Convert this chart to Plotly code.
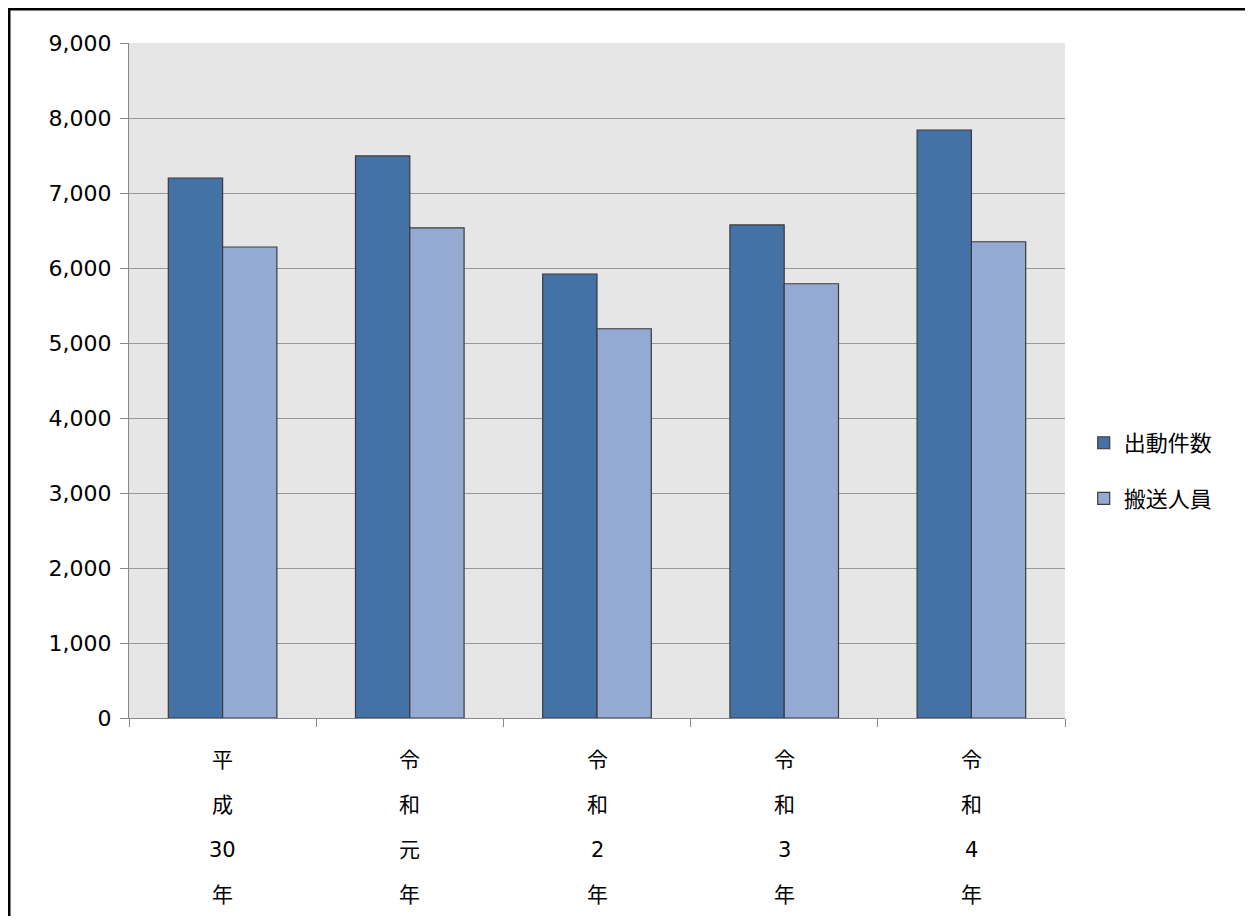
import plotly.graph_objects as go

categories = ["平成30年", "令和元年", "令和2年", "令和3年", "令和4年"]
cat_lines = [["平", "成", "30", "年"], ["令", "和", "元", "年"], ["令", "和", "2", "年"],
             ["令", "和", "3", "年"], ["令", "和", "4", "年"]]
dispatches = [7200, 7495, 5920, 6575, 7840]
transported = [6280, 6535, 5190, 5790, 6350]

font = "DejaVu Sans, Noto Sans CJK JP"

fig = go.Figure()
fig.add_bar(x=categories, y=dispatches, name="出動件数", legendgroup="a",
            marker=dict(color="#4472a6", line=dict(color="#3a3a3a", width=1.2)))
fig.add_bar(x=categories, y=transported, name="搬送人員", legendgroup="b",
            marker=dict(color="#95aad2", line=dict(color="#3a3a3a", width=1.2)))

for cat, lines in zip(categories, cat_lines):
    for i, t in enumerate(lines):
        fig.add_annotation(x=cat, y=0, xref="x", yref="y", text=t, showarrow=False,
                           yshift=-42 - 45 * i, font=dict(size=21, color="#000"))

W, H = 1237, 908
L, R, T, B = 121, 180, 35, 198
pw, ph = W - L - R, H - T - B

fig.update_layout(
    width=W, height=H,
    margin=dict(l=L, r=R, t=T, b=B),
    paper_bgcolor="white", plot_bgcolor="#e6e6e6",
    font=dict(family=font, size=22, color="#000"),
    barmode="group", bargap=0.42, bargroupgap=0,
    legend=dict(x=1.02, y=0.366, yanchor="middle", font=dict(size=22),
                itemwidth=30, tracegroupgap=24),
)
fig.add_shape(type="rect", xref="paper", yref="paper",
              x0=-(L - 1) / pw, x1=1 + (R + 6) / pw, y0=-(B + 6) / ph, y1=1 + (T - 1) / ph,
              line=dict(color="black", width=3))
fig.update_xaxes(showticklabels=False, showline=True, linecolor="#888",
                 ticks="outside", ticklen=8, tickcolor="#888",
                 tickson="boundaries")
fig.update_yaxes(range=[0, 9000], dtick=1000, tickformat=",", gridcolor="#999",
                 showline=True, linecolor="#888", ticks="outside", ticklen=8,
                 tickcolor="#888", zeroline=False, ticklabelstandoff=4)

fig.write_html("out.html")
